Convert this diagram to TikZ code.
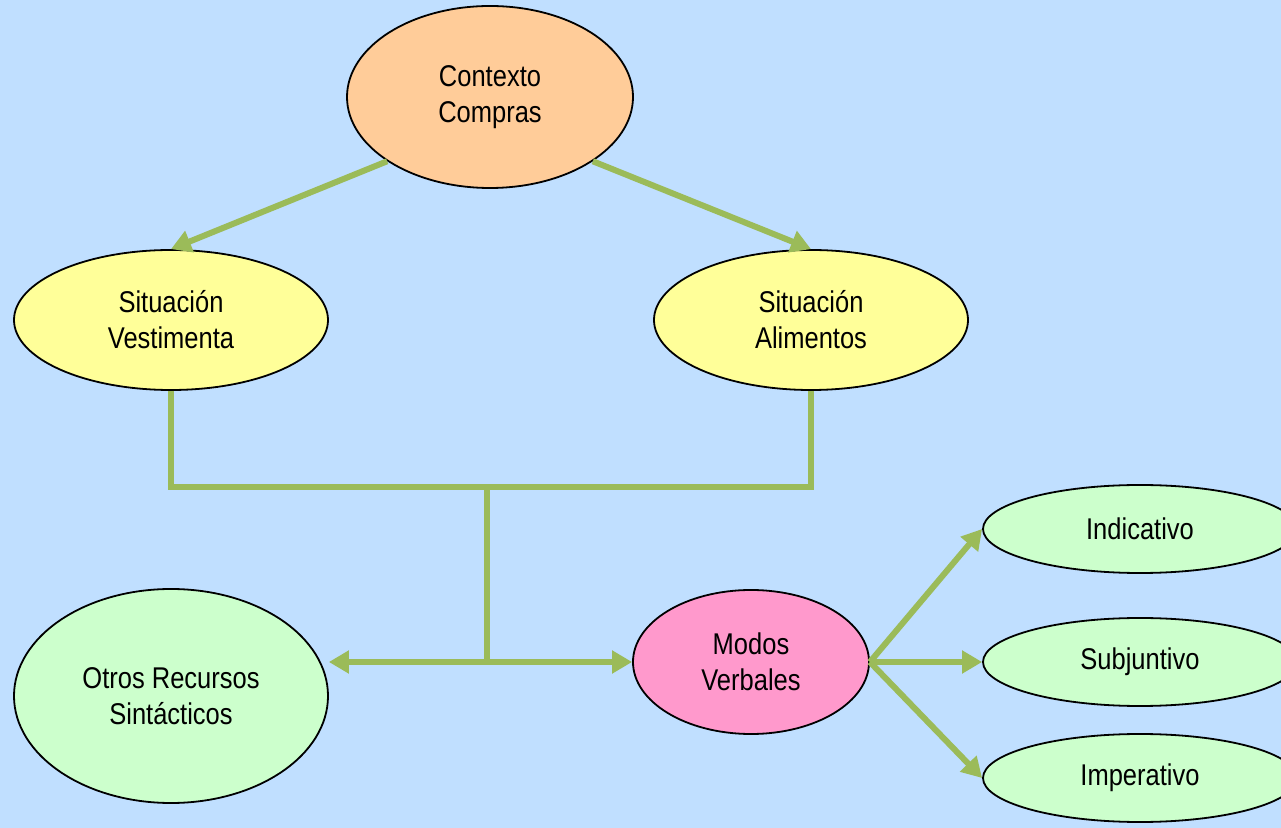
\documentclass[tikz,border=0pt]{standalone}
\usepackage{fontspec}
\setmainfont{Liberation Sans}[FakeStretch=0.85]
\usetikzlibrary{shapes.geometric,arrows.meta}
\definecolor{fondo}{HTML}{C0DFFF}
\definecolor{verdeflecha}{HTML}{9BBB59}
\definecolor{naranja}{HTML}{FFCC99}
\definecolor{amarillo}{HTML}{FFFF99}
\definecolor{verdeclaro}{HTML}{CCFFCC}
\definecolor{rosa}{HTML}{FF99CC}

\begin{document}
\begin{tikzpicture}[x=0.5pt,y=-0.5pt,
    elipse/.style={ellipse, draw=black, line width=0.9pt, inner sep=0pt, align=center,
        font=\fontsize{15}{18}\selectfont},
    flecha/.style={draw=verdeflecha, line width=3pt, -{Triangle[length=10pt,width=11pt]}},
    linea/.style={draw=verdeflecha, line width=3pt}]
    \useasboundingbox (0,0) rectangle (1281,828);
    \clip (0,0) rectangle (1281,828);
    \fill[fondo] (0,0) rectangle (1281,828);

    % Contexto y situaciones
    \node[elipse, fill=naranja, minimum width=143pt, minimum height=91pt] (contexto) at (490,97) {Contexto\\Compras};
    \node[elipse, fill=amarillo, minimum width=157pt, minimum height=70pt] (vestimenta) at (171,320) {Situación\\Vestimenta};
    \node[elipse, fill=amarillo, minimum width=157pt, minimum height=70pt] (alimentos) at (811,320) {Situación\\Alimentos};

    % Recursos
    \node[elipse, fill=verdeclaro, minimum width=157pt, minimum height=107pt] (otros) at (171,696) {Otros Recursos\\Sintácticos};
    \node[elipse, fill=rosa, minimum width=118pt, minimum height=72pt] (modos) at (751,662) {Modos\\Verbales};

    % Modos verbales
    \node[elipse, fill=verdeclaro, minimum width=157pt, minimum height=44pt] (indicativo) at (1140,529) {Indicativo};
    \node[elipse, fill=verdeclaro, minimum width=157pt, minimum height=44pt] (subjuntivo) at (1140,662) {Subjuntivo};
    \node[elipse, fill=verdeclaro, minimum width=157pt, minimum height=44pt] (imperativo) at (1140,778) {Imperativo};

    % Conectores
    \coordinate (barra) at (487,487);
    \coordinate (centro) at (487,662);
    \draw[flecha] (contexto.212) -- (vestimenta.north);
    \draw[flecha] (contexto.328) -- (alimentos.north);
    \draw[linea] (vestimenta.south) |- (barra) -| (alimentos.south);
    \draw[linea] (barra) -- (centro);
    \draw[flecha] (centro) -- (centro -| otros.east);
    \draw[flecha] (centro) -- (modos.west);
    \draw[flecha] (modos.east) -- (indicativo.west);
    \draw[flecha] (modos.east) -- (subjuntivo.west);
    \draw[flecha] (modos.east) -- (imperativo.west);
\end{tikzpicture}
\end{document}
